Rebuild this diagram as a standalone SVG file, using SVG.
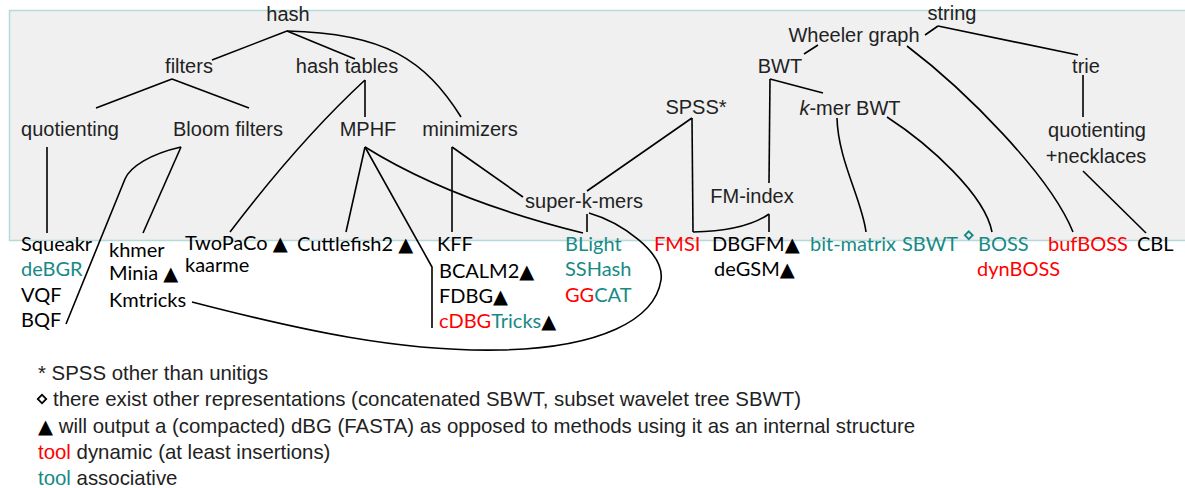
<svg xmlns="http://www.w3.org/2000/svg" width="1185" height="488" viewBox="0 0 1185 488">
<style>
.cat{font-family:"Liberation Sans",Arial,sans-serif;font-size:20px;fill:#222;text-anchor:middle}
.tool{font-family:Lato,"DejaVu Sans",sans-serif;font-size:20px;fill:#000}
.leg{font-family:"Liberation Sans",Arial,sans-serif;font-size:20.4px;fill:#222}
.r{fill:#ff0000}
.t{fill:#178a86}
.tri{font-family:"DejaVu Sans",sans-serif;font-size:19.5px;fill:#000}
#connectors path{fill:none;stroke:#000;stroke-width:1.6}
</style>
<rect x="9.5" y="10.5" width="1190" height="230" fill="#f0f0f0" stroke="#b6d9da" stroke-width="1.5"/>
<g id="connectors">
<path d="M287,31 L212,60"/>
<path d="M287,31 L355,59"/>
<path d="M287,31 C385,33 425,60 461,117"/>
<path d="M172,79 L96,108"/>
<path d="M172,79 L249,108"/>
<path d="M365,80 L365,117"/>
<path d="M365,80 Q300,140 230,232"/>
<path d="M181,147 L143,233"/>
<path d="M181,147 C150,154 130,167 125,179 L66,324"/>
<path d="M47,147 L47,233"/>
<path d="M365,147 L346,232"/>
<path d="M365,147 L432,267 L432,328"/>
<path d="M365,147 Q450,200 583,233"/>
<path d="M452,147 L452,232"/>
<path d="M452,147 L523,197"/>
<path d="M692,118 L587,191"/>
<path d="M692,118 L693,232"/>
<path d="M693,232 Q745,231 769,214"/>
<path d="M769,214 L769,232"/>
<path d="M587,214 L587,232"/>
<path d="M192,302 C300,330 400,352 500,350 C600,348 655,320 661,280 C665,252 620,222 589,213"/>
<path d="M770,79 L769,183"/>
<path d="M770,79 L823,93"/>
<path d="M818,45 L804,54"/>
<path d="M938,26 L925,35"/>
<path d="M938,26 L1078,55"/>
<path d="M1083,75 L1083,117"/>
<path d="M1083,171 L1146,233"/>
<path d="M907,46 C965,90 1050,175 1073,232"/>
<path d="M887,117 C930,145 985,195 992,232"/>
<path d="M837,118 C838,160 862,200 866,232"/>
</g>
<g id="hash"><text class="cat" x="288" y="21">hash</text></g>
<g id="filters"><text class="cat" x="189" y="73">filters</text></g>
<g id="hashtables"><text class="cat" x="347" y="73">hash tables</text></g>
<g id="quotienting"><text class="cat" x="70" y="136">quotienting</text></g>
<g id="bloom"><text class="cat" x="228" y="136">Bloom filters</text></g>
<g id="mphf"><text class="cat" x="368" y="136">MPHF</text></g>
<g id="minimizers"><text class="cat" x="470" y="136">minimizers</text></g>
<g id="spss"><text class="cat" x="696" y="114">SPSS*</text></g>
<g id="superkmers"><text class="cat" x="584" y="208">super-k-mers</text></g>
<g id="fmindex"><text class="cat" x="752" y="203">FM-index</text></g>
<g id="bwt"><text class="cat" x="780" y="73">BWT</text></g>
<g id="wheeler"><text class="cat" x="854" y="42">Wheeler graph</text></g>
<g id="string"><text class="cat" x="952" y="20">string</text></g>
<g id="trie"><text class="cat" x="1086" y="73">trie</text></g>
<g id="kmerbwt"><text class="cat" x="850" y="115"><tspan font-style="italic">k</tspan>-mer BWT</text></g>
<g id="quotneck"><text class="cat" x="1097" y="137">quotienting</text><text class="cat" x="1096" y="163">+necklaces</text></g>

<g id="squeakr"><text class="tool" x="21" y="251">Squeakr</text></g>
<g id="debgr"><text class="tool t" x="21" y="276">deBGR</text></g>
<g id="vqf"><text class="tool" x="21" y="302">VQF</text></g>
<g id="bqf"><text class="tool" x="21" y="327">BQF</text></g>
<g id="khmer"><text class="tool" x="109" y="257">khmer</text></g>
<g id="minia"><text class="tool" x="109" y="280">Minia <tspan class="tri">▲</tspan></text></g>
<g id="kmtricks"><text class="tool" x="109" y="307">Kmtricks</text></g>
<g id="twopaco"><text class="tool" x="185" y="250">TwoPaCo <tspan class="tri">▲</tspan></text></g>
<g id="kaarme"><text class="tool" x="185" y="272">kaarme</text></g>
<g id="cuttlefish"><text class="tool" x="297" y="251">Cuttlefish2 <tspan class="tri">▲</tspan></text></g>
<g id="kff"><text class="tool" x="437" y="251">KFF</text></g>
<g id="bcalm"><text class="tool" x="439" y="278">BCALM2<tspan class="tri">▲</tspan></text></g>
<g id="fdbg"><text class="tool" x="439" y="303">FDBG<tspan class="tri">▲</tspan></text></g>
<g id="cdbg"><text class="tool" x="439" y="328"><tspan class="r">cDBG</tspan><tspan class="t">Tricks</tspan><tspan class="tri">▲</tspan></text></g>
<g id="blight"><text class="tool t" x="565" y="251">BLight</text></g>
<g id="sshash"><text class="tool t" x="565" y="276">SSHash</text></g>
<g id="ggcat"><text class="tool" x="565" y="302"><tspan class="r">GG</tspan><tspan class="t">CAT</tspan></text></g>
<g id="fmsi"><text class="tool r" x="654" y="251">FMSI</text></g>
<g id="dbgfm"><text class="tool" x="712" y="251">DBGFM<tspan class="tri">▲</tspan></text></g>
<g id="degsm"><text class="tool" x="714" y="276">deGSM<tspan class="tri">▲</tspan></text></g>
<g id="bitmatrix"><text class="tool t" x="810" y="251">bit-matrix</text></g>
<g id="sbwt"><text class="tool t" x="902" y="251">SBWT</text><rect x="966" y="232.5" width="5.5" height="5.5" fill="none" stroke="#178a86" stroke-width="1.9" transform="rotate(45 968.75 235.25)"/></g>
<g id="boss"><text class="tool t" x="978" y="251">BOSS</text></g>
<g id="dynboss"><text class="tool r" x="977" y="276">dynBOSS</text></g>
<g id="bufboss"><text class="tool r" x="1048" y="251">bufBOSS</text></g>
<g id="cbl"><text class="tool" x="1137" y="251">CBL</text></g>

<g id="legend">
<text class="leg" x="38" y="380">* SPSS other than unitigs</text>
<rect x="39" y="396" width="6" height="6" fill="none" stroke="#000" stroke-width="1.8" transform="rotate(45 42 399)"/>
<text class="leg" x="53" y="406">there exist other representations (concatenated SBWT, subset wavelet tree SBWT)</text>
<text class="leg" x="38" y="433"><tspan class="tri" font-size="18px">▲</tspan> will output a (compacted) dBG (FASTA) as opposed to methods using it as an internal structure</text>
<text class="leg" x="38" y="459"><tspan class="r">tool</tspan> dynamic (at least insertions)</text>
<text class="leg" x="38" y="485"><tspan class="t">tool</tspan> associative</text>
</g>
</svg>
